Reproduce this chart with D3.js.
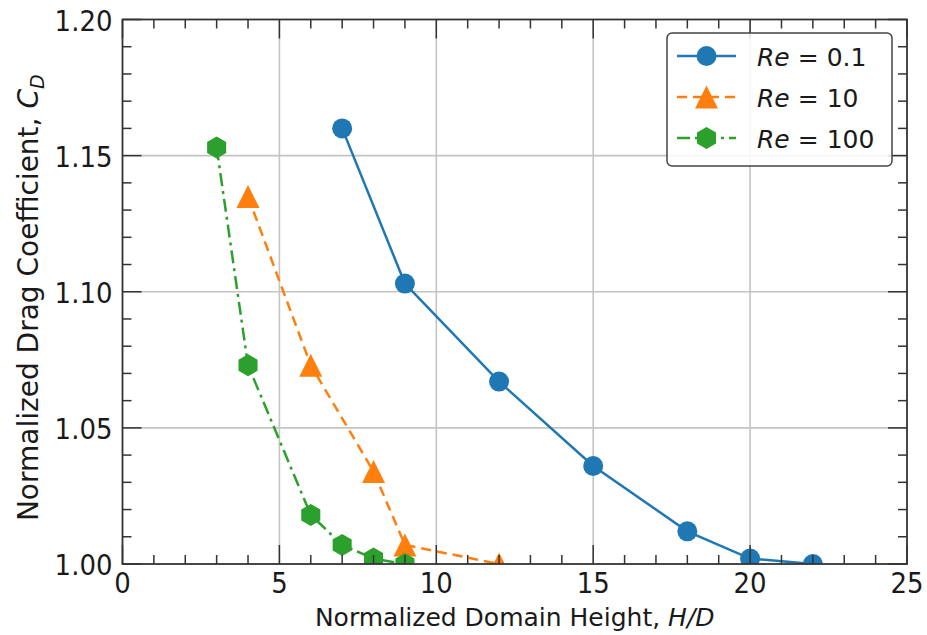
<!DOCTYPE html>
<html><head><meta charset="utf-8">
<script src="https://cdn.jsdelivr.net/npm/d3@7"></script>
<style>body{margin:0;background:#fff;} svg{display:block;font-family:"DejaVu Sans",sans-serif;}</style>
</head><body><svg id="c" width="927" height="635"></svg>
<script>
const re01X = [7, 9, 12, 15, 18, 20, 22];
const re01Y = [1.160, 1.103, 1.067, 1.036, 1.012, 1.002, 1.000];
const re10X = [4, 6, 8, 9, 12];
const re10Y = [1.135, 1.073, 1.034, 1.007, 1.000];
const re100X = [3, 4, 6, 7, 8, 9];
const re100Y = [1.153, 1.073, 1.018, 1.007, 1.002, 1.000];
const seriesNames = ["0.1", "10", "100"];
const xTicks = [0, 5, 10, 15, 20, 25];
const yTicks = [1.00, 1.05, 1.10, 1.15, 1.20];

const svg = d3.select("#c");
const L = 122.5, R = 907, T = 19.5, B = 564;
const x = d3.scaleLinear().domain([0, 25]).range([L, R]);
const y = d3.scaleLinear().domain([1.0, 1.2]).range([B, T]);
const axisCol = "#333";
const txtCol = "#1a1a1a";

// grid
const g = svg.append("g");
g.selectAll(".gx").data(xTicks.slice(1, -1)).join("line")
  .attr("x1", d => x(d)).attr("x2", d => x(d)).attr("y1", T).attr("y2", B)
  .attr("stroke", "#c4c4c4").attr("stroke-width", 1.6);
g.selectAll(".gy").data(yTicks.slice(1, -1)).join("line")
  .attr("y1", d => y(d)).attr("y2", d => y(d)).attr("x1", L).attr("x2", R)
  .attr("stroke", "#c4c4c4").attr("stroke-width", 1.6);

svg.append("clipPath").attr("id", "clip").append("rect")
  .attr("x", L).attr("y", T).attr("width", R - L).attr("height", B - T);

const colors = ["#1f77b4", "#ff7f0e", "#2ca02c"];
const dashes = [null, "10,6", "13,5,3,5"];
const data = [
  re01X.map((d, i) => [d, re01Y[i]]),
  re10X.map((d, i) => [d, re10Y[i]]),
  re100X.map((d, i) => [d, re100Y[i]])
];
function hexPath(r) {
  let p = "";
  for (let k = 0; k < 6; k++) {
    const a = Math.PI / 2 + k * Math.PI / 3;
    p += (k ? "L" : "M") + (r * Math.cos(a)).toFixed(2) + "," + (-r * Math.sin(a)).toFixed(2);
  }
  return p + "Z";
}
function markerPath(i) {
  if (i === 2) return hexPath(11);
  if (i === 1) { const h = 11.5; return `M0,${-h}L${h},${h}L${-h},${h}Z`; }
  return d3.symbol().type(d3.symbolCircle).size(Math.PI * 10 * 10)();
}
const line = d3.line().x(d => x(d[0])).y(d => y(d[1]));
const plot = svg.append("g").attr("clip-path", "url(#clip)");
data.forEach((ser, i) => {
  plot.append("path").attr("d", line(ser)).attr("fill", "none")
    .attr("stroke", colors[i]).attr("stroke-width", 2.5)
    .attr("stroke-dasharray", dashes[i]);
});
data.forEach((ser, i) => {
  plot.selectAll(null).data(ser).join("path")
    .attr("d", markerPath(i))
    .attr("transform", d => `translate(${x(d[0])},${y(d[1])})`)
    .attr("fill", colors[i]);
});

// frame
svg.append("rect").attr("x", L).attr("y", T).attr("width", R - L).attr("height", B - T)
  .attr("fill", "none").attr("stroke", axisCol).attr("stroke-width", 1.8);

// ticks (inside, all four sides)
const ax = svg.append("g").attr("stroke", axisCol).attr("stroke-width", 1.5);
const xMinor = d3.range(0, 26, 1);
const yMinor = d3.range(0, 21, 1).map(k => 1 + k * 0.01);
xMinor.forEach(v => {
  const len = v % 5 === 0 ? 19 : 9;
  ax.append("line").attr("x1", x(v)).attr("x2", x(v)).attr("y1", B).attr("y2", B - len);
  ax.append("line").attr("x1", x(v)).attr("x2", x(v)).attr("y1", T).attr("y2", T + len);
});
yMinor.forEach((v, k) => {
  const len = k % 5 === 0 ? 19 : 9;
  ax.append("line").attr("y1", y(v)).attr("y2", y(v)).attr("x1", L).attr("x2", L + len);
  ax.append("line").attr("y1", y(v)).attr("y2", y(v)).attr("x1", R).attr("x2", R - len);
});

// tick labels
svg.selectAll(".xl").data(xTicks).join("text")
  .attr("transform", d => `translate(${x(d)},${B + 29}) scale(1,1.1)`)
  .attr("text-anchor", "middle")
  .attr("font-size", 26).attr("fill", txtCol).text(d => d);
svg.selectAll(".yl").data(yTicks).join("text")
  .attr("transform", d => `translate(${L - 10},${y(d) + 11}) scale(1,1.1)`)
  .attr("text-anchor", "end")
  .attr("font-size", 26).attr("fill", txtCol).text(d => d.toFixed(2));

// axis titles
const xt = svg.append("text").attr("x", (L + R) / 2).attr("y", 626).attr("text-anchor", "middle")
  .attr("font-size", 25).attr("fill", txtCol);
xt.append("tspan").text("Normalized Domain Height, ");
xt.append("tspan").attr("font-style", "italic").text("H/D");

const yt = svg.append("text").attr("transform", `translate(38,${(T + B) / 2 + 6}) rotate(-90)`)
  .attr("text-anchor", "middle").attr("font-size", 28).attr("fill", txtCol);
yt.append("tspan").text("Normalized Drag Coefficient, ");
yt.append("tspan").attr("font-style", "italic").text("C");
yt.append("tspan").attr("font-style", "italic").attr("font-size", 19).attr("dy", 6).text("D");

// legend
const lg = svg.append("g");
lg.append("rect").attr("x", 667).attr("y", 33).attr("width", 225).attr("height", 133)
  .attr("rx", 5).attr("fill", "#fff").attr("fill-opacity", 0.85)
  .attr("stroke", "#444").attr("stroke-width", 1.5);
const rowY = [56, 97, 138];
seriesNames.forEach((nm, i) => {
  const cy = rowY[i];
  lg.append("line").attr("x1", 677).attr("x2", 736).attr("y1", cy).attr("y2", cy)
    .attr("stroke", colors[i]).attr("stroke-width", 2.5).attr("stroke-dasharray", dashes[i]);
  lg.append("path").attr("d", markerPath(i))
    .attr("transform", `translate(706.5,${cy})`).attr("fill", colors[i]);
  const t = lg.append("text").attr("x", 757).attr("y", cy + 9.5).attr("font-size", 25).attr("fill", txtCol);
  t.append("tspan").attr("font-style", "italic").text("Re");
  t.append("tspan").attr("dx", 8).text("=");
  t.append("tspan").attr("dx", 8).text(nm);
});
</script></body></html>
